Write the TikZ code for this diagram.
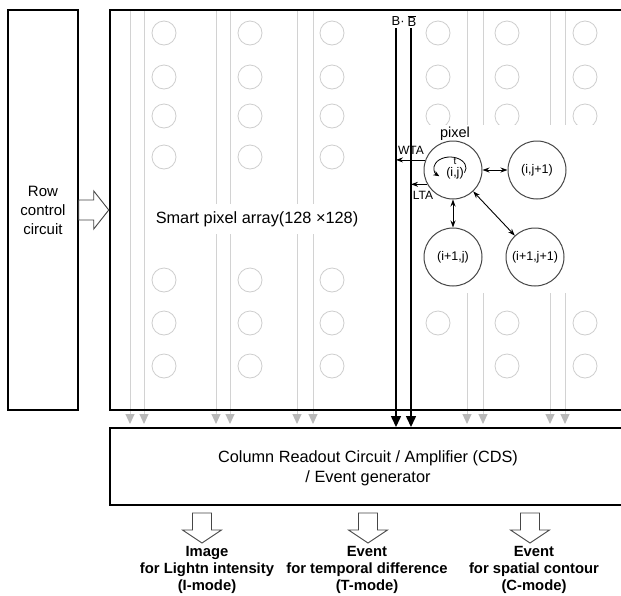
\documentclass[tikz,border=0pt]{standalone}
\usepackage{fontspec}
\setmainfont{Liberation Sans}
\usetikzlibrary{arrows.meta,calc}
\definecolor{lgray}{RGB}{210,210,210}
\definecolor{agray}{RGB}{185,185,185}
\definecolor{cgray}{RGB}{206,206,206}
\definecolor{dgray}{RGB}{70,70,70}
\begin{document}
\begin{tikzpicture}[x=1pt,y=-1pt,
  box/.style={draw=black, line width=2pt},
  graycol/.style={draw=lgray, line width=1pt, -{Triangle[width=9pt,length=10pt,color=agray]}},
  gcirc/.style={circle, draw=cgray, line width=0.8pt, minimum size=24pt, inner sep=0pt},
  pix/.style={circle, draw=dgray, line width=1pt, minimum size=58pt, inner sep=0pt, font=\fontsize{12.5}{14}\selectfont},
  bline/.style={draw=black, line width=1.5pt, -{Triangle[width=10pt,length=11pt]}},
  link/.style={line width=0.9pt, {Stealth[length=7pt,width=5pt]}-{Stealth[length=7pt,width=5pt]}},
  tap/.style={line width=0.8pt, -{Stealth[length=7pt,width=5pt]}},
  hollow/.style={draw=dgray, line width=0.9pt, fill=white},
  outlbl/.style={align=center, font=\bfseries\fontsize{14.8}{17}\selectfont, inner sep=0pt}
]
\clip (0,0) rectangle (621,595);
\fill[white] (0,0) rectangle (621,595);

% gray column lines
\foreach \x [count=\i] in {130,144,216,230,297,313,467,483,550,565}{
  \coordinate (gt\i) at (\x,10);
  \coordinate (gb\i) at (\x,424);
  \draw[graycol] (gt\i) -- (gb\i);
}
% gray pixel circles (left part)
\foreach \x [count=\i] in {164,250,332}{
  \foreach \y [count=\j] in {33,77,116,157,280,323,366}{
    \node[gcirc] (l\i-\j) at (\x,\y) {};
  }
}
% gray pixel circles (right part)
\foreach \x [count=\i] in {438,507,585}{
  \foreach \y [count=\j] in {33,77,116,323}{
    \node[gcirc] (r\i-\j) at (\x,\y) {};
  }
}
\node[gcirc] (r2-5) at (507,366) {};
\node[gcirc] (r3-5) at (585,366) {};

% white area of the enlarged pixel detail
\fill[white] (380,125) rectangle (625,293);

% array label
\node[fill=white, inner xsep=3pt, inner ysep=7pt, font=\fontsize{16.3}{18}\selectfont] (arr) at (257,219) {Smart pixel array(128 ×128)};

% array box (open to the right)
\draw[box] (625,10) -| (110,410) -- (625,410);

% row control circuit
\node[draw=black, line width=1.5pt, minimum width=70pt, minimum height=400pt, align=center,
      font=\fontsize{15}{19}\selectfont] (row) at (43,210) {Row\\control\\circuit};
\draw[hollow] ($(row.east)+(0,-10)$) -- ++(15,0) -- ++(0,-9) -- ++(15,19) -- ++(-15,19) -- ++(0,-9) -- ++(-15,0) -- cycle;

% readout box
\draw[box] (625,428) -| (110,505) -- (625,505);
\node[align=center, font=\fontsize{16.3}{20}\selectfont] (ro) at (368,468) {Column Readout Circuit / Amplifier (CDS)\\/ Event generator};

% B lines
\coordinate (Blt) at (396,28);
\coordinate (Blb) at (396,427);
\coordinate (Brt) at (411,28);
\coordinate (Brb) at (411,427);
\draw[bline] (Blt) -- (Blb);
\draw[bline] (Brt) -- (Brb);
\node[font=\fontsize{13}{14}\selectfont, inner sep=0pt] (Bl) at (396,21) {B\rlap{·}};
\node[font=\fontsize{13}{14}\selectfont, inner sep=0pt] (Br) at (412,21) {$\overline{\hbox{B}}$};

% enlarged pixels
\node[pix] (ij) at (453,170) {};
\node[pix] (ij1) at (537,170) {(i,j+1)};
\node[pix] (i1j) at (453,257) {(i+1,j)};
\node[pix] (i1j1) at (535,257) {(i+1,j+1)};
\node[font=\fontsize{14.5}{16}\selectfont, inner sep=0pt] (plbl) at (455,134) {pixel};

\node[font=\fontsize{12.5}{13}\selectfont, inner sep=0pt] (ijl) at (455,173) {(i,j)};
\node[font=\fontsize{10}{11}\selectfont, inner sep=0pt] (tl) at (455,161) {t};
\draw[line width=0.8pt, -{Stealth[length=6pt,width=5pt]}] (450,168) ++(25:16 and 11)
  arc[start angle=25, end angle=-228, x radius=16, y radius=11];

\draw[link] (ij) -- (ij1);
\draw[link] (ij) -- (i1j);
\draw[link] (ij) -- (i1j1);

\draw[tap] (ij.160) -- (ij.160 -| Blt);
\draw[tap] (ij.209) -- (ij.209 -| Brt);
\node[font=\fontsize{12}{13}\selectfont, inner sep=0pt] (wta) at (411,150) {WTA};
\node[font=\fontsize{12}{13}\selectfont, inner sep=0pt] (lta) at (423,195) {LTA};

% output arrows
\foreach \cx [count=\i] in {202,368,530}{
  \draw[hollow] (\cx-9.5,513) -- (\cx+9.5,513) -- (\cx+9.5,530) -- (\cx+19.5,530)
     -- (\cx,543) -- (\cx-19.5,530) -- (\cx-9.5,530) -- cycle;
}
\node[outlbl] (o1) at (207,570) {Image\\for Lightn intensity\\(I-mode)};
\node[outlbl] (o2) at (367,570) {Event\\for temporal difference\\(T-mode)};
\node[outlbl] (o3) at (534,570) {Event\\for spatial contour\\(C-mode)};
\end{tikzpicture}
\end{document}
